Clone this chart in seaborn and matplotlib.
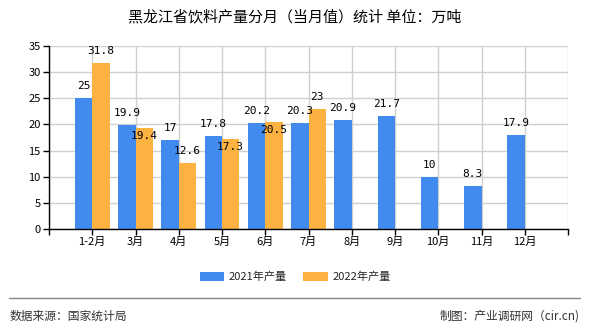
import matplotlib
matplotlib.use("Agg")
import matplotlib.pyplot as plt
import seaborn as sns
import pandas as pd
import numpy as np
from matplotlib.patches import Patch
from matplotlib.lines import Line2D

months = ["1-2月", "3月", "4月", "5月", "6月", "7月", "8月", "9月", "10月", "11月", "12月"]
v2021 = [25, 19.9, 17, 17.8, 20.2, 20.3, 20.9, 21.7, 10, 8.3, 17.9]
v2022 = [31.8, 19.4, 12.6, 17.3, 20.5, 23, np.nan, np.nan, np.nan, np.nan, np.nan]
series = ["2021年产量", "2022年产量"]
colors = ["#428BEE", "#FBB241"]
title = "黑龙江省饮料产量分月（当月值）统计 单位：万吨"
source = "数据来源：国家统计局"
credit = "制图：产业调研网（cir.cn)"
yticks = [0, 5, 10, 15, 20, 25, 30, 35]

sns.set_theme(style="white")
plt.rcParams["font.family"] = ["Noto Sans CJK SC", "DejaVu Sans"]

df = pd.DataFrame({
    "month": months * 2,
    "value": v2021 + v2022,
    "year": [series[0]] * len(months) + [series[1]] * len(months),
})

fig = plt.figure(figsize=(5.9, 3.3), dpi=100)
ax = fig.add_axes([49 / 590, 1 - 229 / 330, (568 - 49) / 590, (229 - 46) / 330])

sns.barplot(data=df, x="month", y="value", hue="year", palette=colors,
            width=0.8, saturation=1, ax=ax, legend=False, order=months,
            hue_order=series, linewidth=0, edgecolor="none")

ax.set_xlim(-1, 11)
ax.set_ylim(0, 35)
ax.set_yticks(yticks)
ax.set_xticks(range(-1, 12))
ax.set_xticklabels([""] + months + [""])
ax.grid(True, color="#d0d0d0", linewidth=1)
ax.set_axisbelow(True)
ax.set_xlabel("")
ax.set_ylabel("")
for s in ["top", "right"]:
    ax.spines[s].set_visible(False)
for s in ["left", "bottom"]:
    ax.spines[s].set_color("black")
    ax.spines[s].set_linewidth(1)
ax.tick_params(axis="both", which="both", length=4, width=1, color="black",
               labelsize=8, labelcolor="black", direction="out", pad=2)
ax.tick_params(axis="x", bottom=True)
ax.tick_params(axis="y", left=True)

# bar value labels
lab_kw = dict(textcoords="offset pixels", ha="center", va="center", fontsize=8,
              family="DejaVu Sans Mono", color="black")
for i, b1 in enumerate(ax.containers[0]):
    a = v2021[i]
    bx = b1.get_x() + b1.get_width() / 2
    ax.annotate(f"{a:g}", (bx, a), xytext=(0, 12), **lab_kw)
for b2 in ax.containers[1]:
    b = b2.get_height()
    if np.isnan(b):
        continue
    ox = b2.get_x() + b2.get_width() / 2
    i = int(round(ox))
    off = -8 if abs(v2021[i] - b) < 1 else 12
    ax.annotate(f"{b:g}", (ox, b), xytext=(0, off), **lab_kw)

fig.text(0.5, 1 - 17 / 330, title, ha="center", va="center", fontsize=10.8, color="black")

handles = [Patch(facecolor=c, edgecolor="none") for c in colors]
fig.legend(handles, series, loc="center", bbox_to_anchor=(0.5, 1 - 277 / 330),
           ncol=2, frameon=False, fontsize=8, handlelength=2.2, handleheight=0.8,
           columnspacing=1.5, handletextpad=0.4)

fig.add_artist(Line2D([9 / 590, 580 / 590], [1 - 298 / 330] * 2, color="#888888",
                      linewidth=1, transform=fig.transFigure))
fig.text(10 / 590, 1 - 316 / 330, source, ha="left", va="center", fontsize=8.5, color="#333333")
fig.text(580 / 590, 1 - 316 / 330, credit, ha="right", va="center", fontsize=8.5, color="#333333")

fig.savefig("out.png", dpi=100)
